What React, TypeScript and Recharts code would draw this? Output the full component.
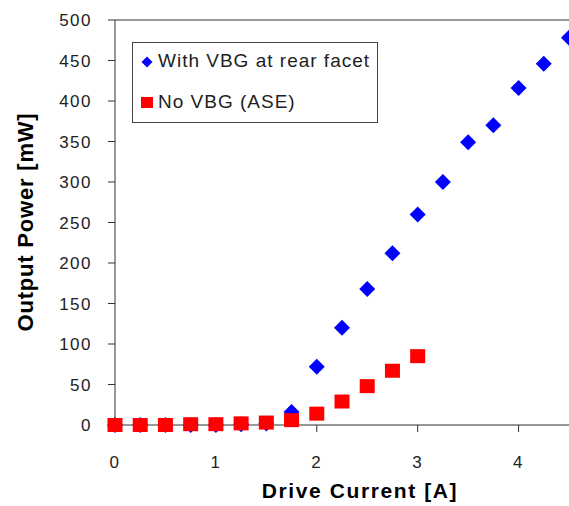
import React from 'react'
import { ScatterChart, Scatter, XAxis, YAxis, ReferenceLine, Legend } from 'recharts'

const currents = [0, 0.25, 0.5, 0.75, 1, 1.25, 1.5, 1.75, 2, 2.25, 2.5, 2.75, 3, 3.25, 3.5, 3.75, 4, 4.25, 4.5]
const withVbg = [0, 0, 0, 0, 0, 1, 2, 16, 72, 120, 168, 212, 260, 300, 349, 370, 416, 446, 478]
const noVbg = [0, 0, 0, 1, 1, 2, 3, 6, 14, 29, 48, 67, 85]

const xTicks = [0, 1, 2, 3, 4]
const yTicks = [0, 50, 100, 150, 200, 250, 300, 350, 400, 450, 500]

const vbgData = withVbg.map((v, i) => ({ x: currents[i], y: v }))
const aseData = noVbg.map((v, i) => ({ x: currents[i], y: v }))

const FONT = '"Liberation Sans", Arial, sans-serif'

const Diamond = (props: any) => {
  const { cx, cy } = props
  const r = 8
  return <path d={`M${cx},${cy - r}L${cx + r},${cy}L${cx},${cy + r}L${cx - r},${cy}Z`} fill="#0000ff" />
}

const Square = (props: any) => {
  const { cx, cy } = props
  return <rect x={cx - 7.5} y={cy - 7} width={15} height={14} fill="#ff0000" />
}

const LegendBox = () => (
  <div style={{ width: 244, height: 79, border: '1px solid #444', background: '#fff', fontFamily: FONT, fontSize: 19, letterSpacing: 1, color: '#222', position: 'relative' }}>
    <svg width={14} height={14} style={{ position: 'absolute', left: 7, top: 12 }}>
      <path d="M7,1.5L12.5,7L7,12.5L1.5,7Z" fill="#0000ff" />
    </svg>
    <div style={{ position: 'absolute', left: 25, top: 7, whiteSpace: 'nowrap' }}>With VBG at rear facet</div>
    <svg width={14} height={14} style={{ position: 'absolute', left: 7, top: 53 }}>
      <rect x={1} y={1} width={12} height={11} fill="#ff0000" />
    </svg>
    <div style={{ position: 'absolute', left: 25, top: 48, whiteSpace: 'nowrap' }}>No VBG (ASE)</div>
  </div>
)

const YTitle = () => (
  <text x={0} y={0} transform="translate(33,222) rotate(-90)" textAnchor="middle" fontFamily={FONT} fontWeight="bold" fontSize={22} letterSpacing={0.8} fill="#000">
    Output Power [mW]
  </text>
)

const XTitle = () => (
  <text x={360} y={498} textAnchor="middle" fontFamily={FONT} fontWeight="bold" fontSize={21} letterSpacing={1.6} fill="#000">
    Drive Current [A]
  </text>
)

const App = () => {
  return (
    <div style={{ position: 'absolute', left: 0, top: 0, width: 569, height: 506, background: '#fff' }}>
      <ScatterChart width={569} height={506} margin={{ top: 20, right: 0, bottom: 0, left: 0 }}>
        <XAxis
          type="number"
          dataKey="x"
          domain={[0, 4.5]}
          ticks={xTicks}
          height={81}
          tickSize={7}
          tickMargin={24}
          stroke="#333"
          tick={{ fill: '#222', fontSize: 17, fontFamily: FONT, letterSpacing: 1.5 }}
          label={<XTitle />}
        />
        <YAxis
          type="number"
          dataKey="y"
          domain={[0, 500]}
          ticks={yTicks}
          width={115}
          tickSize={7}
          tickMargin={16}
          stroke="#333"
          tick={{ fill: '#222', fontSize: 17, fontFamily: FONT, letterSpacing: 1.5 }}
          label={<YTitle />}
        />
        <ReferenceLine y={500} stroke="#333" />
        <Legend
          layout="horizontal"
          verticalAlign="middle"
          align="center"
          wrapperStyle={{ left: 132, top: 42, width: 246 }}
          content={() => <LegendBox />}
        />
        <Scatter name="With VBG at rear facet" data={vbgData} shape={Diamond} isAnimationActive={false} />
        <Scatter name="No VBG (ASE)" data={aseData} shape={Square} isAnimationActive={false} />
      </ScatterChart>
    </div>
  )
}

export default App
